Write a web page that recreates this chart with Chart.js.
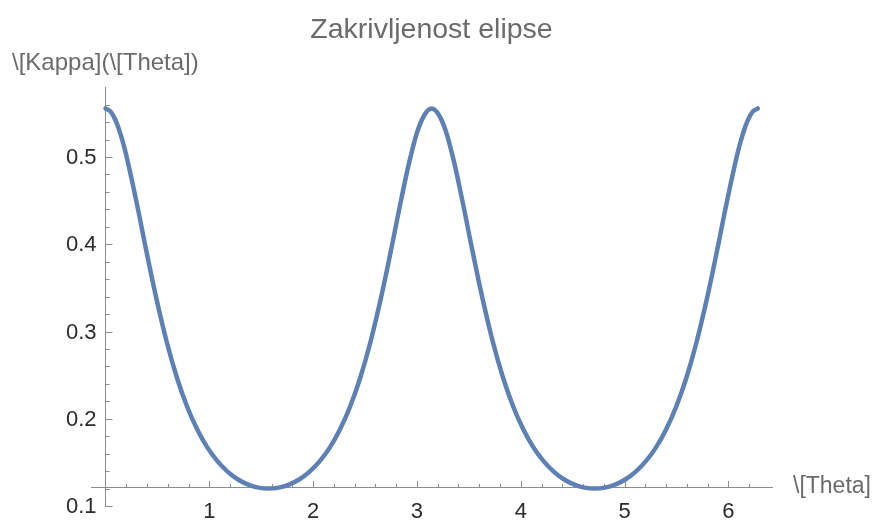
<!DOCTYPE html>
<html>
<head>
<meta charset="utf-8">
<script src="https://cdn.jsdelivr.net/npm/chart.js@4"></script>
<style>
    body { margin: 0; background: #fff; }
    #wrap { width: 877px; height: 524px; }
</style>
</head>
<body>
<div id="wrap"><canvas id="kappaChart"></canvas></div>
<script>
// theta samples (mostly step pi/32, denser near the ends) and curvature
var theta = [0, 0.0491, 0.0982, 0.1473, 0.1963, 0.2945, 0.3927, 0.4909, 0.5890, 0.6872, 0.7854, 0.8836,
    0.9817, 1.0799, 1.1781, 1.2763, 1.3744, 1.4726, 1.5708, 1.6690, 1.7671, 1.8653,
    1.9635, 2.0617, 2.1598, 2.2580, 2.3562, 2.4544, 2.5525, 2.6507, 2.7489, 2.8471,
    2.9452, 3.0434, 3.1416, 3.2398, 3.3379, 3.4361, 3.5343, 3.6325, 3.7306, 3.8288,
    3.9270, 4.0252, 4.1233, 4.2215, 4.3197, 4.4179, 4.5160, 4.6142, 4.7124, 4.8106,
    4.9087, 5.0069, 5.1051, 5.2033, 5.3014, 5.3996, 5.4978, 5.5960, 5.6941, 5.7923,
    5.8905, 5.9887, 6.0868, 6.1359, 6.1850, 6.2341, 6.2832];
var kappa = [0.5556, 0.5520, 0.5416, 0.5251, 0.5036, 0.4506, 0.3926, 0.3372, 0.2883, 0.2473, 0.2140, 0.1876,
    0.1669, 0.1511, 0.1391, 0.1304, 0.1245, 0.1211, 0.1200, 0.1211, 0.1245, 0.1304,
    0.1391, 0.1511, 0.1669, 0.1876, 0.2140, 0.2473, 0.2883, 0.3372, 0.3926, 0.4506,
    0.5036, 0.5416, 0.5556, 0.5416, 0.5036, 0.4506, 0.3926, 0.3372, 0.2883, 0.2473,
    0.2140, 0.1876, 0.1669, 0.1511, 0.1391, 0.1304, 0.1245, 0.1211, 0.1200, 0.1211,
    0.1245, 0.1304, 0.1391, 0.1511, 0.1669, 0.1876, 0.2140, 0.2473, 0.2883, 0.3372,
    0.3926, 0.4506, 0.5036, 0.5251, 0.5416, 0.5520, 0.5556];
var xLabels = [1, 2, 3, 4, 5, 6];
var yLabels = [0.1, 0.2, 0.3, 0.4, 0.5];

var chartTitle = 'Zakrivljenost elipse';
var xTitle = '\\[Theta]';
var yTitle = '\\[Kappa](\\[Theta])';

var axisCross = 0.1207; // where the theta axis crosses
var fontFam = '"Liberation Sans", Arial, sans-serif';

var points = theta.map(function(t, i) { return {x: t, y: kappa[i]}; });

function isMult(v, step) {
    var r = v / step;
    return Math.abs(r - Math.round(r)) < 1e-6;
}

// inward ticks (major + minor), y labels and the two axis captions, Mathematica style
var axisDecor = {
    id: 'axisDecor',
    beforeDatasetsDraw: function(chart) {
        var ctx = chart.ctx;
        var xs = chart.scales.x, ys = chart.scales.y;
        var x0 = xs.getPixelForValue(0);
        var y0 = ys.getPixelForValue(axisCross);
        ctx.save();
        ctx.strokeStyle = '#8c8c8c';
        ctx.lineWidth = 1;
        ctx.beginPath();
        xs.ticks.forEach(function(t) {
            if (t.value <= 0.001 || !isMult(t.value, 0.2)) return;
            var len = isMult(t.value, 1) ? 7 : 4;
            var px = Math.round(xs.getPixelForValue(t.value)) + 0.5;
            ctx.moveTo(px, y0);
            ctx.lineTo(px, y0 - len);
        });
        ys.ticks.forEach(function(t) {
            if (t.value > 0.575 || !isMult(t.value, 0.02)) return;
            var len = isMult(t.value, 0.1) ? 7 : 4;
            var py = Math.round(ys.getPixelForValue(t.value)) + 0.5;
            ctx.moveTo(x0, py);
            ctx.lineTo(x0 + len, py);
        });
        ctx.stroke();

        ctx.fillStyle = '#2b2b2b';
        ctx.font = '22px ' + fontFam;
        ctx.textBaseline = 'middle';
        ctx.textAlign = 'right';
        yLabels.forEach(function(v) {
            ctx.fillText(v.toFixed(1), x0 - 9, ys.getPixelForValue(v) + 1);
        });

        ctx.fillStyle = '#6b6b6b';
        ctx.textAlign = 'left';
        ctx.font = '23px ' + fontFam;
        ctx.fillText(xTitle, chart.chartArea.right + 21, y0 - 1);
        ctx.font = '24px ' + fontFam;
        ctx.fillText(yTitle, 12, 63);
        ctx.restore();
    }
};

var ctx = document.getElementById('kappaChart').getContext('2d');
var kappaChart = new Chart(ctx, {
    type: 'line',
    data: {
        datasets: [
            {
                data: points,
                borderColor: '#5e81b5',
                borderWidth: 4.5,
                borderCapStyle: 'round',
                pointRadius: 0,
                tension: 0.4,
                fill: false
            }
        ]
    },
    options: {
        responsive: true,
        maintainAspectRatio: false,
        animation: false,
        layout: {
            padding: { left: 91, right: 105, top: 0, bottom: 18 }
        },
        plugins: {
            legend: { display: false },
            tooltip: { enabled: false },
            title: {
                display: true,
                text: chartTitle,
                fullSize: false,
                color: '#6b6b6b',
                font: { family: fontFam, size: 28.5, weight: 'normal' },
                padding: { top: 13, bottom: 40 }
            }
        },
        scales: {
            x: {
                type: 'linear',
                min: -0.14,
                max: 6.42,
                position: { y: axisCross },
                grid: { display: false, drawTicks: false },
                border: { display: true, color: '#8c8c8c', width: 1 },
                ticks: {
                    stepSize: 0.2,
                    autoSkip: false,
                    maxRotation: 0,
                    padding: 11,
                    color: '#2b2b2b',
                    font: { family: fontFam, size: 22 },
                    callback: function(v) {
                        return xLabels.indexOf(Math.round(v)) >= 0 && isMult(v, 1) ? String(Math.round(v)) : '';
                    }
                }
            },
            y: {
                type: 'linear',
                min: 0.1,
                max: 0.58,
                position: { x: 0 },
                grid: { display: false, drawTicks: false },
                border: { display: true, color: '#8c8c8c', width: 1 },
                ticks: {
                    stepSize: 0.02,
                    autoSkip: false,
                    display: false
                }
            }
        }
    },
    plugins: [axisDecor]
});
</script>
</body>
</html>
